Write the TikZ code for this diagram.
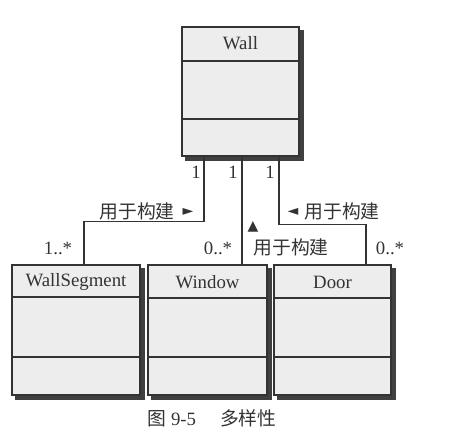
\documentclass[tikz,border=0pt]{standalone}
\usepackage{fontspec}
\setmainfont{Liberation Serif}
\newfontfamily\cjk{Noto Sans CJK SC}
\newfontfamily\symf{DejaVu Sans}
\usetikzlibrary{calc}
\definecolor{shadowgray}{HTML}{404040}
\definecolor{boxgray}{HTML}{EDEDED}

\begin{document}
\begin{tikzpicture}[x=0.5pt,y=-0.5pt,
   cls/.style={rectangle,draw=black!80,line width=0.6pt,fill=boxgray},
   clsname/.style={font=\fontsize{9.4}{11}\selectfont,text=black!80,inner sep=0pt},
   lbl/.style={font=\fontsize{9.4}{11}\selectfont,text=black!80,inner sep=0pt},
   link/.style={draw=black!80,line width=0.6pt},
   shadowline/.style={draw=shadowgray,line width=2.2pt}
    ]
  \useasboundingbox (0,0) rectangle (449,447);

  % -- top class
  \node[cls,minimum width=58.5pt,minimum height=64.5pt] at (240.5,91.5) (wall) {};
  \draw[shadowline] ($(wall.north east)+(2.5,4)$) -- ($(wall.south east)+(2.5,2.5)$) -- ($(wall.south west)+(4,2.5)$);
  \draw[link] (wall.west |- 0,61) -- (wall.east |- 0,61);
  \draw[link] (wall.west |- 0,119) -- (wall.east |- 0,119);
  \node[clsname] at ($(wall.north)+(0,17)$) (wallname) {Wall};

  % -- bottom row
  \node[cls,minimum width=64pt,minimum height=65pt] at (76,330) (seg) {};
  \draw[shadowline] ($(seg.north east)+(2.5,4)$) -- ($(seg.south east)+(2.5,2.5)$) -- ($(seg.south west)+(4,2.5)$);
  \draw[link] (seg.west |- 0,297) -- (seg.east |- 0,297);
  \draw[link] (seg.west |- 0,357) -- (seg.east |- 0,357);
  \node[clsname] at ($(seg.north)+(0,18)$) (segname) {WallSegment};

  \node[cls,minimum width=59.5pt,minimum height=65pt] at (207.5,330) (win) {};
  \draw[shadowline] ($(win.north east)+(2.5,4)$) -- ($(win.south east)+(2.5,2.5)$) -- ($(win.south west)+(4,2.5)$);
  \draw[link] (win.west |- 0,298) -- (win.east |- 0,298);
  \draw[link] (win.west |- 0,357) -- (win.east |- 0,357);
  \node[clsname] at ($(win.north)+(0,18)$) (winname) {Window};

  \node[cls,minimum width=58.5pt,minimum height=65pt] at (332.5,330) (door) {};
  \draw[shadowline] ($(door.north east)+(2.5,4)$) -- ($(door.south east)+(2.5,2.5)$) -- ($(door.south west)+(4,2.5)$);
  \draw[link] (door.west |- 0,298) -- (door.east |- 0,298);
  \draw[link] (door.west |- 0,357) -- (door.east |- 0,357);
  \node[clsname] at ($(door.north)+(0,18)$) (doorname) {Door};

  % -- associations
  \draw[link] ($(wall.south)+(-36.5,0)$) -- ++(0,65) -| ($(seg.north)+(8,0)$);
  \draw[link] ($(wall.south)+(1.5,0)$) -- ($(win.north)+(34.5,0)$);
  \draw[link] ($(wall.south)+(38.5,0)$) -- ++(0,68) -| ($(door.north)+(33.5,0)$);

  % -- multiplicities
  \node[lbl] at (196,172) (m1) {1};
  \node[lbl] at (233,172) (m2) {1};
  \node[lbl] at (270,172) (m3) {1};
  \node[lbl] at (58,248) (m4) {1..*};
  \node[lbl] at (218,248) (m5) {0..*};
  \node[lbl] at (390,248) (m6) {0..*};

  % -- role names
  \node[lbl] at (137,211) (r1) {\cjk 用于构建};
  \node[lbl] at (188,212) (r1a) {\symf\fontsize{7}{8}\selectfont ►};
  \node[lbl] at (293,212) (r3a) {\symf\fontsize{7}{8}\selectfont ◄};
  \node[lbl] at (342,211) (r3) {\cjk 用于构建};
  \node[lbl] at (253,227) (r2a) {\symf\fontsize{7}{8}\selectfont ▲};
  \node[lbl] at (291,247) (r2) {\cjk 用于构建};

  % -- caption
  \node[lbl] at (212,418) (cap) {\cjk 图\rmfamily\ 9-5\hspace{12pt}\cjk 多样性};

\end{tikzpicture}
\end{document}
